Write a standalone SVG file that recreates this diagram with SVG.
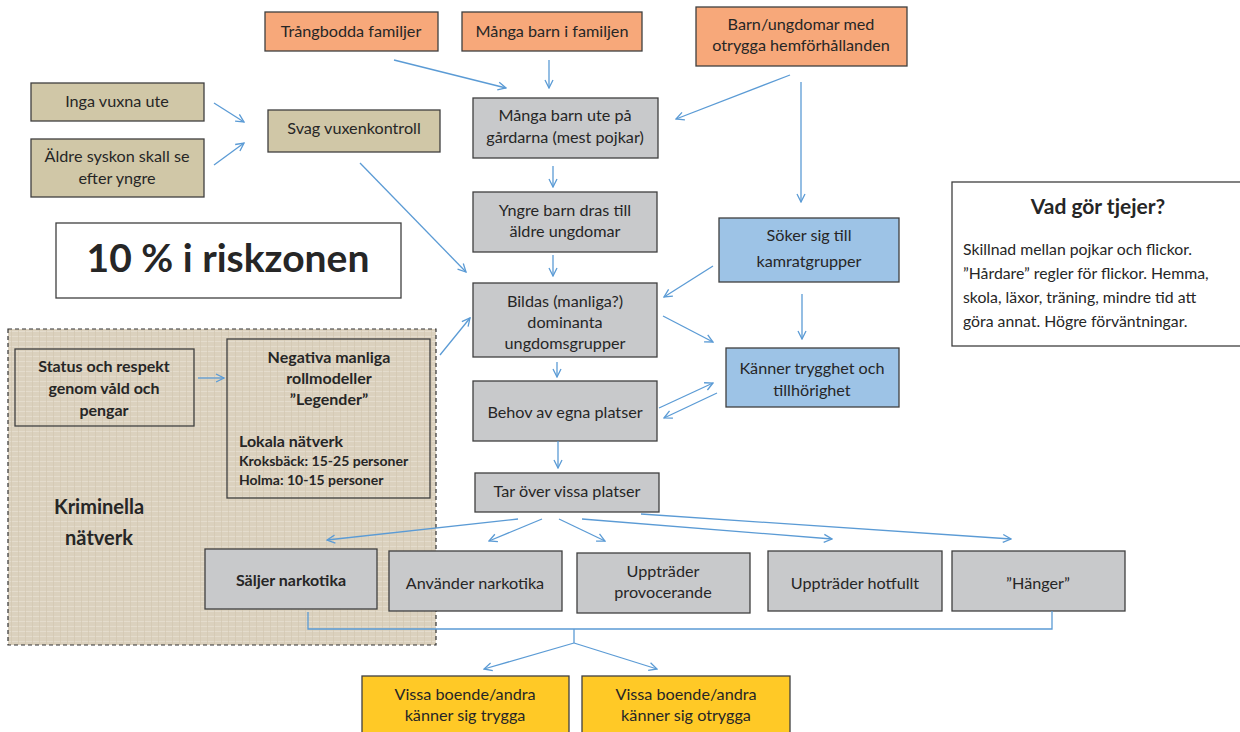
<svg xmlns="http://www.w3.org/2000/svg" width="1240" height="732" viewBox="0 0 1240 732">
<defs>
<marker id="arr" viewBox="0 0 10 10" refX="9" refY="5" markerWidth="10" markerHeight="11" markerUnits="userSpaceOnUse" orient="auto">
<path d="M1,1 L9,5 L1,9" fill="none" stroke="#5B9BD5" stroke-width="1.3"/>
</marker>
<pattern id="burlap" width="7" height="5" patternUnits="userSpaceOnUse">
<rect width="7" height="5" fill="#DBD1BE"/>
<path d="M0,1.5 H7" stroke="#E4DCCD" stroke-width="1"/>
<path d="M4.5,0 V5" stroke="#D2C7B2" stroke-width="0.7"/>
</pattern>
<style>
.box{stroke:#3F3F3F;stroke-width:1.3}
.or{fill:#F7A87A}
.tan{fill:#D0C7A7}
.gr{fill:#C8C9CB}
.bl{fill:#9DC3E6}
.ye{fill:#FFC926}
.wh{fill:#FFFFFF}
.nb{fill:none}
text{font-family:Lato,"Open Sans","Liberation Sans",sans-serif;fill:#262626}
.t{font-size:16.2px;text-anchor:middle}
.b{font-weight:bold}
.c line,.c path{stroke:#5B9BD5;stroke-width:1.3;fill:none}
.a{marker-end:url(#arr)}
</style>
</defs>

<g id="kriminella-natverk">
<rect x="8" y="329" width="428" height="316" fill="url(#burlap)" stroke="#333" stroke-width="1.2" stroke-dasharray="4,3"/>
<text class="t b" x="99" y="514" style="font-size:20px">Kriminella</text>
<text class="t b" x="99" y="545" style="font-size:20px">nätverk</text>
</g>

<g id="riskzonen">
<rect class="box wh" x="56" y="223" width="345" height="75"/>
<text x="228" y="272" text-anchor="middle" font-weight="bold" font-size="39">10 % i riskzonen</text>
</g>

<g id="trangbodda"><rect class="box or" x="265" y="12" width="173" height="39"/><text class="t" x="351" y="37">Trångbodda familjer</text></g>
<g id="manga-barn-familjen"><rect class="box or" x="462" y="12" width="180" height="39"/><text class="t" x="552" y="37">Många barn i familjen</text></g>
<g id="otrygga-hem"><rect class="box or" x="696" y="7" width="211" height="59"/><text class="t" x="801" y="30">Barn/ungdomar med</text><text class="t" x="801" y="51">otrygga hemförhållanden</text></g>

<g id="inga-vuxna"><rect class="box tan" x="31" y="83" width="173" height="38"/><text class="t" x="117" y="107">Inga vuxna ute</text></g>
<g id="aldre-syskon"><rect class="box tan" x="31" y="139" width="173" height="58"/><text class="t" x="117" y="162">Äldre syskon skall se</text><text class="t" x="117" y="184">efter yngre</text></g>
<g id="svag-vuxenkontroll"><rect class="box tan" x="268" y="110" width="172" height="42"/><text class="t" x="354" y="134">Svag vuxenkontroll</text></g>

<g id="manga-barn-ute"><rect class="box gr" x="473" y="98" width="185" height="60"/><text class="t" x="565" y="121">Många barn ute på</text><text class="t" x="565" y="143">gårdarna (mest pojkar)</text></g>
<g id="yngre-barn"><rect class="box gr" x="473" y="192" width="184" height="60"/><text class="t" x="565" y="216">Yngre barn dras till</text><text class="t" x="565" y="237">äldre ungdomar</text></g>
<g id="bildas"><rect class="box gr" x="473" y="283" width="184" height="74"/><text class="t" x="565" y="307">Bildas (manliga?)</text><text class="t" x="565" y="328">dominanta</text><text class="t" x="565" y="349">ungdomsgrupper</text></g>
<g id="behov"><rect class="box gr" x="473" y="381" width="184" height="60"/><text class="t" x="565" y="418">Behov av egna platser</text></g>
<g id="tar-over"><rect class="box gr" x="475" y="473" width="184" height="39"/><text class="t" x="567" y="497">Tar över vissa platser</text></g>

<g id="soker"><rect class="box bl" x="719" y="218" width="180" height="64"/><text class="t" x="809" y="241">Söker sig till</text><text class="t" x="809" y="267">kamratgrupper</text></g>
<g id="kanner"><rect class="box bl" x="726" y="348" width="173" height="59"/><text class="t" x="812" y="374">Känner trygghet och</text><text class="t" x="812" y="396">tillhörighet</text></g>

<g id="vad-gor-tjejer">
<rect class="box wh" x="952" y="182" width="300" height="164"/>
<text x="1098" y="214" text-anchor="middle" font-weight="bold" font-size="21">Vad gör tjejer?</text>
<text x="963" y="255" font-size="15.8">Skillnad mellan pojkar och flickor.</text>
<text x="963" y="279" font-size="15.8">”Hårdare” regler för flickor. Hemma,</text>
<text x="963" y="303" font-size="15.8">skola, läxor, träning, mindre tid att</text>
<text x="963" y="327" font-size="15.8">göra annat. Högre förväntningar.</text>
</g>

<g id="status"><rect class="box nb" x="15" y="349" width="179" height="77"/><text class="t b" x="104" y="372" style="font-size:16px">Status och respekt</text><text class="t b" x="104" y="394" style="font-size:16px">genom våld och</text><text class="t b" x="104" y="416" style="font-size:16px">pengar</text></g>
<g id="negativa">
<rect class="box nb" x="227" y="339" width="203" height="159"/>
<text class="t b" x="329" y="363" style="font-size:16px">Negativa manliga</text>
<text class="t b" x="329" y="384" style="font-size:16px">rollmodeller</text>
<text class="t b" x="329" y="405" style="font-size:16px">”Legender”</text>
<text x="239" y="447" font-weight="bold" font-size="16">Lokala nätverk</text>
<text x="239" y="466" font-weight="bold" font-size="14">Kroksbäck: 15-25 personer</text>
<text x="239" y="485" font-weight="bold" font-size="14">Holma: 10-15 personer</text>
</g>

<g id="saljer"><rect class="box gr" x="205" y="549" width="172" height="60"/><text class="t b" x="291" y="586" style="font-size:16px">Säljer narkotika</text></g>
<g id="anvander"><rect class="box gr" x="389" y="551" width="173" height="60"/><text class="t" x="475" y="589">Använder narkotika</text></g>
<g id="provocerande"><rect class="box gr" x="577" y="553" width="173" height="60"/><text class="t" x="663" y="577">Uppträder</text><text class="t" x="663" y="598">provocerande</text></g>
<g id="hotfullt"><rect class="box gr" x="768" y="551" width="174" height="60"/><text class="t" x="855" y="589">Uppträder hotfullt</text></g>
<g id="hanger"><rect class="box gr" x="952" y="551" width="173" height="60"/><text class="t" x="1038" y="589">”Hänger”</text></g>

<g id="trygga"><rect class="box ye" x="362" y="676" width="207" height="62"/><text class="t" x="465" y="700">Vissa boende/andra</text><text class="t" x="465" y="721">känner sig trygga</text></g>
<g id="otrygga"><rect class="box ye" x="582" y="676" width="208" height="62"/><text class="t" x="686" y="700">Vissa boende/andra</text><text class="t" x="686" y="721">känner sig otrygga</text></g>

<g id="connectors" class="c">
<line class="a" x1="394" y1="60" x2="506" y2="88"/>
<line class="a" x1="549" y1="60" x2="549" y2="88"/>
<line class="a" x1="790" y1="75" x2="676" y2="119"/>
<line class="a" x1="801" y1="82" x2="801" y2="202"/>
<line class="a" x1="214" y1="103" x2="244" y2="122"/>
<line class="a" x1="214" y1="165" x2="244" y2="143"/>
<line class="a" x1="360" y1="163" x2="466" y2="272"/>
<line class="a" x1="553" y1="166" x2="553" y2="187"/>
<line class="a" x1="553" y1="255" x2="553" y2="276"/>
<line class="a" x1="713" y1="266" x2="664" y2="297"/>
<line class="a" x1="663" y1="316" x2="713" y2="342"/>
<line class="a" x1="802" y1="294" x2="802" y2="339"/>
<line class="a" x1="557" y1="362" x2="557" y2="377"/>
<line class="a" x1="659" y1="408" x2="713" y2="383"/>
<line class="a" x1="717" y1="393" x2="664" y2="418"/>
<line class="a" x1="558" y1="441" x2="558" y2="468"/>
<line class="a" x1="440" y1="355" x2="470" y2="318"/>
<line class="a" x1="198" y1="378" x2="224" y2="378"/>
<line class="a" x1="518" y1="519" x2="327" y2="540"/>
<line class="a" x1="542" y1="519" x2="489" y2="541"/>
<line class="a" x1="559" y1="519" x2="605" y2="541"/>
<line class="a" x1="582" y1="519" x2="832" y2="539"/>
<line class="a" x1="641" y1="514" x2="1011" y2="539"/>
<path d="M308,612 V629 H1052 V611"/>
<line x1="574" y1="629" x2="574" y2="643"/>
<line class="a" x1="574" y1="643" x2="484" y2="669"/>
<line class="a" x1="574" y1="643" x2="657" y2="669"/>
</g>
</svg>
